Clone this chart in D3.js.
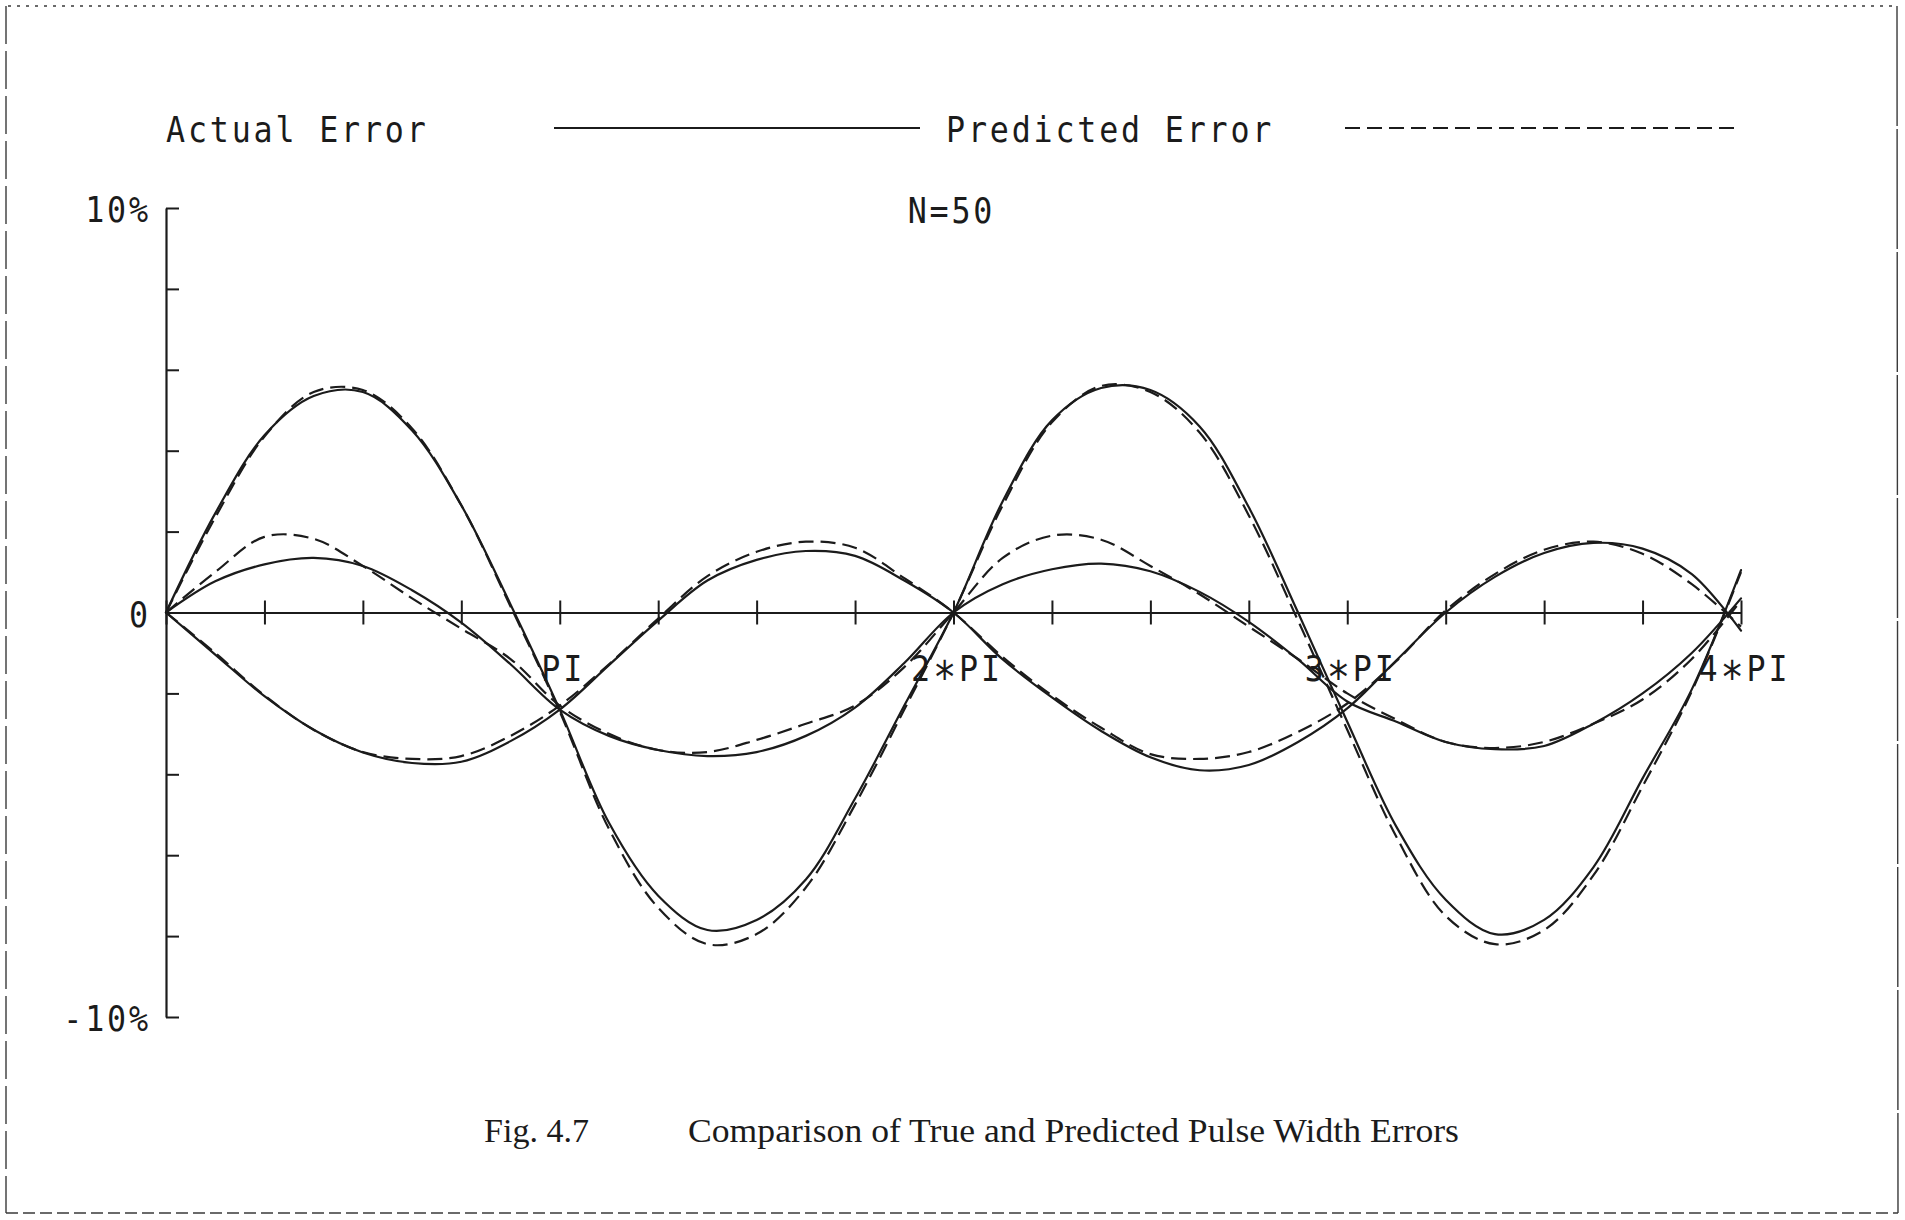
<!DOCTYPE html>
<html>
<head>
<meta charset="utf-8">
<script src="https://cdn.jsdelivr.net/npm/d3@7"></script>
<style>
  html, body { margin: 0; padding: 0; background: #ffffff; }
  svg { display: block; }
</style>
</head>
<body>
<svg id="chart" width="1905" height="1220"></svg>
<script>
// Pulse width error (%) sampled every PI/8 over 0 .. 4*PI (33 samples per series)
const sampleSteps = d3.range(33);            // sample k sits at k*PI/8

// Phase A (large swing)
const actualA    = [0, 2.45, 4.38, 5.35, 5.45, 4.5, 2.65, 0.2, -2.4, -5.2, -7.0, -7.85, -7.6, -6.6, -4.6, -2.3,
                    0, 2.75, 4.75, 5.55, 5.5, 4.6, 2.6, 0, -2.7, -5.3, -7.1, -7.95, -7.6, -6.3, -4.1, -1.9, 1.05];
const predictedA = [0, 2.35, 4.35, 5.45, 5.5, 4.55, 2.65, 0.15, -2.45, -5.35, -7.3, -8.2, -7.95, -6.8, -4.75, -2.4,
                    0, 2.65, 4.7, 5.6, 5.45, 4.45, 2.4, -0.2, -2.9, -5.55, -7.5, -8.2, -7.85, -6.5, -4.3, -1.95, 1.0];

// Phase B (starts negative)
const actualB    = [0, -1.04, -2.07, -2.9, -3.46, -3.72, -3.69, -3.18, -2.4, -1.3, -0.2, 0.79, 1.3, 1.52, 1.4, 0.79,
                    0, -1.16, -2.1, -2.93, -3.58, -3.9, -3.77, -3.2, -2.37, -1.18, 0, 0.88, 1.47, 1.72, 1.58, 0.95, -0.45];
const predictedB = [0, -1.0, -2.05, -2.9, -3.45, -3.62, -3.55, -3.05, -2.3, -1.28, -0.15, 0.9, 1.5, 1.75, 1.6, 0.85,
                    0, -1.1, -2.05, -2.85, -3.5, -3.62, -3.45, -2.95, -2.25, -1.2, 0.05, 0.95, 1.55, 1.75, 1.45, 0.7, -0.35];

// Phase C (small positive hump first)
const actualC    = [0, 0.77, 1.19, 1.35, 1.15, 0.55, -0.25, -1.28, -2.4, -3.05, -3.4, -3.55, -3.45, -3.05, -2.35, -1.25,
                    0, 0.7, 1.07, 1.21, 1.02, 0.51, -0.23, -1.16, -2.2, -2.7, -3.2, -3.38, -3.3, -2.75, -2.0, -1.0, 0.35];
const predictedC = [0, 1.0, 1.87, 1.82, 1.15, 0.35, -0.4, -1.15, -2.3, -3.0, -3.4, -3.45, -3.15, -2.75, -2.3, -1.35,
                    0, 1.35, 1.9, 1.8, 1.15, 0.45, -0.35, -1.15, -2.0, -2.65, -3.2, -3.35, -3.2, -2.75, -2.15, -1.15, 0.3];

// Axis ticks and labels
const xTickSteps   = d3.range(17);           // tick k sits at k*PI/4
const xLabelMults  = [1, 2, 3, 4];           // multiples of PI that carry a label
const xLabelText   = ["PI", "2*PI", "3*PI", "4*PI"];
const yTickValues  = [-10, -8, -6, -4, -2, 0, 2, 4, 6, 8, 10];
const yLabelValues = [10, 0, -10];
const yLabelText   = ["10%", "0", "-10%"];
const legendText   = ["Actual Error", "Predicted Error"];
const titleText    = "N=50";
const captionNum   = "Fig. 4.7";
const captionText  = "Comparison of True and Predicted Pulse Width Errors";

const PI = Math.PI;
const ink = "#1b1b1b";
const svg = d3.select("#chart");

svg.append("rect").attr("width", 1905).attr("height", 1220).attr("fill", "#ffffff");

// Page frame
const frame = svg.append("g").attr("fill", "none").attr("stroke", "#3a3a3a").attr("stroke-width", 1.4);
frame.append("line").attr("x1", 8).attr("y1", 6).attr("x2", 1897).attr("y2", 6).attr("stroke-dasharray", "3 6");
frame.append("line").attr("x1", 6).attr("y1", 6).attr("x2", 6).attr("y2", 1213).attr("stroke-dasharray", "38 7");
frame.append("line").attr("x1", 1897).attr("y1", 6).attr("x2", 1898).attr("y2", 1213).attr("stroke-dasharray", "120 3");
frame.append("line").attr("x1", 6).attr("y1", 1213).attr("x2", 1898).attr("y2", 1213).attr("stroke-dasharray", "12 5");

// Scales
const x = d3.scaleLinear().domain([0, 4 * PI]).range([166, 1741]);
const y = d3.scaleLinear().domain([-10, 10]).range([1017, 208]);

// Y axis: ticks pointing into the plot
const yAxis = d3.axisRight(y).tickValues(yTickValues).tickSize(13).tickSizeOuter(0).tickFormat("");
svg.append("g")
  .attr("transform", `translate(${x(0)},0)`)
  .call(yAxis)
  .call(g => {
    g.select(".domain").attr("stroke", ink).attr("stroke-width", 2.2);
    g.selectAll(".tick line").attr("stroke", ink).attr("stroke-width", 2);
  });

// X axis along zero, ticks crossing the line
const xAxis = d3.axisBottom(x).tickValues(xTickSteps.map(k => k * PI / 4))
  .tickSize(12).tickSizeOuter(0).tickFormat("");
svg.append("g")
  .attr("transform", `translate(0,${y(0)})`)
  .call(xAxis)
  .call(g => {
    g.select(".domain").attr("stroke", ink).attr("stroke-width", 2);
    g.selectAll(".tick line").attr("y1", -12).attr("y2", 12).attr("stroke", ink).attr("stroke-width", 2);
  });

// Plotter-style lettering: slightly narrowed monospace glyphs
function plotText(parent, px, py, str, anchor) {
  const sx = 0.88, spacing = 3.2;
  let shift = 0;
  if (anchor === "end") shift = spacing * sx;
  if (anchor === "middle") shift = spacing * sx / 2;
  const t = parent.append("text")
    .attr("transform", `translate(${px + shift},${py}) scale(${sx},1)`)
    .attr("font-family", "'DejaVu Sans Mono', 'Liberation Mono', monospace")
    .attr("font-size", 36)
    .attr("letter-spacing", spacing)
    .attr("fill", ink)
    .attr("text-anchor", anchor || "start");
  str.split("*").forEach((part, i) => {
    if (i > 0) t.append("tspan").attr("dy", 12).attr("font-size", 44).text("*");
    t.append("tspan").attr("dy", i > 0 ? -12 : 0).text(part);
  });
  return t;
}

const labels = svg.append("g");

// Y labels
yLabelValues.forEach((v, i) => {
  plotText(labels, 148, y(v) + 14, yLabelText[i], "end");
});

// X labels under multiples of PI
xLabelMults.forEach((m, i) => {
  plotText(labels, x(m * PI) + 2, 681, xLabelText[i], "middle");
});

// Title
plotText(labels, 950, 223, titleText, "middle");

// Legend
plotText(labels, 166, 142, legendText[0], "start");
plotText(labels, 946, 142, legendText[1], "start");
svg.append("line").attr("x1", 554).attr("x2", 920).attr("y1", 128).attr("y2", 128)
  .attr("stroke", ink).attr("stroke-width", 2);
svg.append("line").attr("x1", 1345).attr("x2", 1734).attr("y1", 128).attr("y2", 128)
  .attr("stroke", ink).attr("stroke-width", 2).attr("stroke-dasharray", "15 7");

// Curves
const line = d3.line()
  .x((d, i) => x(sampleSteps[i] * PI / 8))
  .y(d => y(d))
  .curve(d3.curveCatmullRom.alpha(0.5));

const curves = svg.append("g").attr("fill", "none").attr("stroke", ink)
  .attr("stroke-linejoin", "round").attr("stroke-linecap", "round");

[actualA, actualB, actualC].forEach(series => {
  curves.append("path").attr("d", line(series)).attr("stroke-width", 2.2);
});
[predictedA, predictedB, predictedC].forEach(series => {
  curves.append("path").attr("d", line(series)).attr("stroke-width", 2.2)
    .attr("stroke-linecap", "butt").attr("stroke-dasharray", "15 7");
});

// Caption
const caption = svg.append("g").attr("font-family", "'Liberation Serif', 'DejaVu Serif', serif")
  .attr("font-size", 34).attr("fill", ink);
caption.append("text").attr("x", 484).attr("y", 1142)
  .attr("textLength", 105).attr("lengthAdjust", "spacingAndGlyphs").text(captionNum);
caption.append("text").attr("x", 688).attr("y", 1142)
  .attr("textLength", 771).attr("lengthAdjust", "spacingAndGlyphs").text(captionText);
</script>
</body>
</html>
